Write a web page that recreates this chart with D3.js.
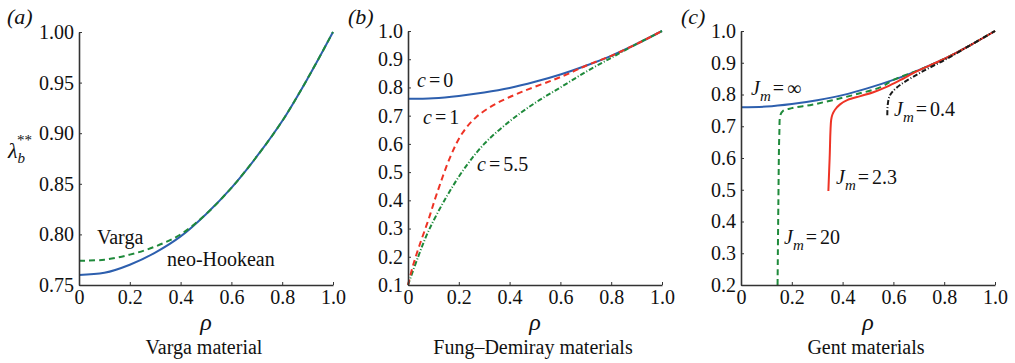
<!DOCTYPE html>
<html>
<head>
<meta charset="utf-8">
<script src="https://cdn.jsdelivr.net/npm/d3@7"></script>
<style>
  body { margin: 0; background: #fff; }
</style>
</head>
<body>
<div id="chart"></div>
<script>
// values
const rhoGrid = [0, 0.1, 0.2, 0.3, 0.4, 0.5, 0.6, 0.7, 0.8, 0.9, 1.0];
const neoHookean = [0.760, 0.762, 0.770, 0.782, 0.798, 0.820, 0.846, 0.877, 0.912, 0.954, 1.000];
const varga = [0.774, 0.775, 0.780, 0.788, 0.800, 0.820, 0.846, 0.877, 0.912, 0.954, 1.000];

const c1Rho = [0, 0.02, 0.045, 0.08, 0.114, 0.167, 0.213, 0.27, 0.35, 0.45, 0.57, 0.65, 0.7, 0.8, 0.9, 1.0];
const c1Lam = [0.1, 0.17, 0.24, 0.33, 0.425, 0.555, 0.637, 0.696, 0.744, 0.785, 0.826, 0.856, 0.877, 0.912, 0.954, 1.0];
const c55Rho = [0, 0.04, 0.08, 0.15, 0.22, 0.3, 0.4, 0.5, 0.6, 0.7, 0.8, 0.9, 1.0];
const c55Lam = [0.1, 0.2, 0.29, 0.41, 0.51, 0.6, 0.68, 0.745, 0.8, 0.855, 0.905, 0.954, 1.0];

const j20Rho = [0.144, 0.147, 0.151, 0.155, 0.165, 0.2, 0.28, 0.36, 0.45, 0.55, 0.6, 0.7, 0.8, 0.9, 1.0];
const j20Lam = [0.2, 0.45, 0.68, 0.735, 0.748, 0.757, 0.768, 0.782, 0.800, 0.823, 0.846, 0.877, 0.912, 0.954, 1.0];
const j23Rho = [0.344, 0.349, 0.355, 0.36, 0.37, 0.39, 0.42, 0.47, 0.521, 0.573, 0.626, 0.68, 0.75, 0.8, 0.9, 1.0];
const j23Lam = [0.496, 0.6, 0.72, 0.737, 0.752, 0.769, 0.783, 0.795, 0.807, 0.824, 0.845, 0.868, 0.894, 0.912, 0.954, 1.0];
const j04Rho = [0.576, 0.578, 0.585, 0.6, 0.63, 0.67, 0.72, 0.8, 0.9, 1.0];
const j04Lam = [0.735, 0.77, 0.795, 0.812, 0.832, 0.852, 0.875, 0.908, 0.954, 1.0];

const xTicks = [0, 0.2, 0.4, 0.6, 0.8, 1.0];
const yTicksA = [0.75, 0.80, 0.85, 0.90, 0.95, 1.00];
const yTicksB = [0.1, 0.2, 0.3, 0.4, 0.5, 0.6, 0.7, 0.8, 0.9, 1.0];
const yTicksC = [0.2, 0.3, 0.4, 0.5, 0.6, 0.7, 0.8, 0.9, 1.0];

const blue = "#2d5fae", green = "#1f8a3b", red = "#ee3325", black = "#1a1a1a";
const fontStack = "'Liberation Serif', 'Times New Roman', Tinos, serif";
const fontSize = 20;

const svg = d3.select("#chart").append("svg")
  .attr("width", 1015)
  .attr("height", 363)
  .style("display", "block");

const zip = (xs, ys) => xs.map((x, i) => [x, ys[i]]);

function addText(g, x, y, size, str) {
  return g.append("text")
    .attr("x", x).attr("y", y)
    .style("font-family", fontStack)
    .style("font-size", size + "px")
    .attr("fill", "#111")
    .text(str);
}

function panel(opts) {
  const x = d3.scaleLinear().domain([0, 1]).range([opts.left, opts.right]);
  const y = d3.scaleLinear().domain(opts.yDomain).range([opts.bottom, opts.top]);
  const g = svg.append("g");

  const line = d3.line()
    .x(d => x(d[0]))
    .y(d => y(d[1]))
    .curve(d3.curveCatmullRom.alpha(0.5));

  opts.series.forEach(s => {
    g.append("path")
      .attr("d", line(s.data))
      .attr("fill", "none")
      .attr("stroke", s.color)
      .attr("stroke-width", 2)
      .attr("stroke-dasharray", s.dash || null);
  });

  const xAxis = g.append("g")
    .attr("transform", `translate(0,${opts.bottom})`)
    .call(d3.axisBottom(x).tickValues(xTicks).tickSizeInner(-3).tickSizeOuter(0).tickPadding(5)
      .tickFormat(d => d === 0 ? "0" : d3.format(".1f")(d)));
  const yAxis = g.append("g")
    .attr("transform", `translate(${opts.left},0)`)
    .call(d3.axisLeft(y).tickValues(opts.yTicks).tickSizeInner(-3).tickSizeOuter(0).tickPadding(5)
      .tickFormat(d3.format(opts.yFormat)));

  [xAxis, yAxis].forEach(a => {
    a.attr("font-family", null).attr("font-size", null);
    a.select(".domain").attr("stroke", "#333").attr("stroke-width", 1.6);
    a.selectAll(".tick line").attr("stroke", "#333").attr("stroke-width", 1);
    a.selectAll(".tick text")
      .attr("fill", "#111")
      .style("font-family", fontStack)
      .style("font-size", fontSize + "px");
  });

  // panel tag, rho label, subtitle
  addText(g, opts.tagX, 24, 22, opts.tag).style("font-style", "italic");
  addText(g, (opts.left + opts.right) / 2, 330, 24, "ρ")
    .attr("text-anchor", "middle").style("font-style", "italic");
  addText(g, (opts.left + opts.right) / 2 - 2, 354, fontSize, opts.subtitle)
    .attr("text-anchor", "middle");

  return g;
}

// labels like "c = 0" or "J_m = 2.3"
function mathLabel(g, xPos, yPos, sym, sub, val) {
  const t = addText(g, xPos, yPos, fontSize, null);
  t.append("tspan").style("font-style", "italic").text(sym);
  if (sub) {
    t.append("tspan").attr("dy", 6).style("font-style", "italic").style("font-size", "15px").text(sub);
    t.append("tspan").attr("dy", -6).attr("dx", 2).text("=");
  } else {
    t.append("tspan").attr("dx", 3).text("=");
  }
  t.append("tspan").attr("dx", 3).text(val);
}

// (a) Varga
const gA = panel({
  left: 79, right: 333, top: 32, bottom: 285,
  yDomain: [0.75, 1.0], yTicks: yTicksA, yFormat: ".2f",
  tag: "(a)", tagX: 7, subtitle: "Varga material",
  series: [
    { data: zip(rhoGrid, neoHookean), color: blue },
    { data: zip(rhoGrid, varga), color: green, dash: "6,4" }
  ]
});
addText(gA, 97, 244, fontSize, "Varga");
addText(gA, 167, 266, fontSize, "neo-Hookean");
const lam = addText(gA, 8, 158, 22, null);
lam.append("tspan").style("font-style", "italic").text("λ");
lam.append("tspan").attr("dy", 5).style("font-style", "italic").style("font-size", "15px").text("b");
lam.append("tspan").attr("dy", -18).attr("dx", -8).style("font-size", "15px").text("**");

// (b) Fung–Demiray
const gB = panel({
  left: 408, right: 662, top: 31, bottom: 285,
  yDomain: [0.1, 1.0], yTicks: yTicksB, yFormat: ".1f",
  tag: "(b)", tagX: 348, subtitle: "Fung–Demiray materials",
  series: [
    { data: zip(rhoGrid, neoHookean), color: blue },
    { data: zip(c55Rho, c55Lam), color: green, dash: "5,2,1,2" },
    { data: zip(c1Rho, c1Lam), color: red, dash: "6,4" }
  ]
});
mathLabel(gB, 417, 87, "c", null, "0");
mathLabel(gB, 423, 124, "c", null, "1");
mathLabel(gB, 477, 171, "c", null, "5.5");

// (c) Gent
const gC = panel({
  left: 741, right: 995, top: 31, bottom: 285,
  yDomain: [0.2, 1.0], yTicks: yTicksC, yFormat: ".1f",
  tag: "(c)", tagX: 681, subtitle: "Gent materials",
  series: [
    { data: zip(rhoGrid, neoHookean), color: blue },
    { data: zip(j20Rho, j20Lam), color: green, dash: "6,4" },
    { data: zip(j23Rho, j23Lam), color: red },
    { data: zip(j04Rho, j04Lam), color: black, dash: "5,2,1,2" }
  ]
});
mathLabel(gC, 751, 95, "J", "m", "∞");
mathLabel(gC, 894, 116, "J", "m", "0.4");
mathLabel(gC, 836, 184, "J", "m", "2.3");
mathLabel(gC, 784, 244, "J", "m", "20");
</script>
</body>
</html>
